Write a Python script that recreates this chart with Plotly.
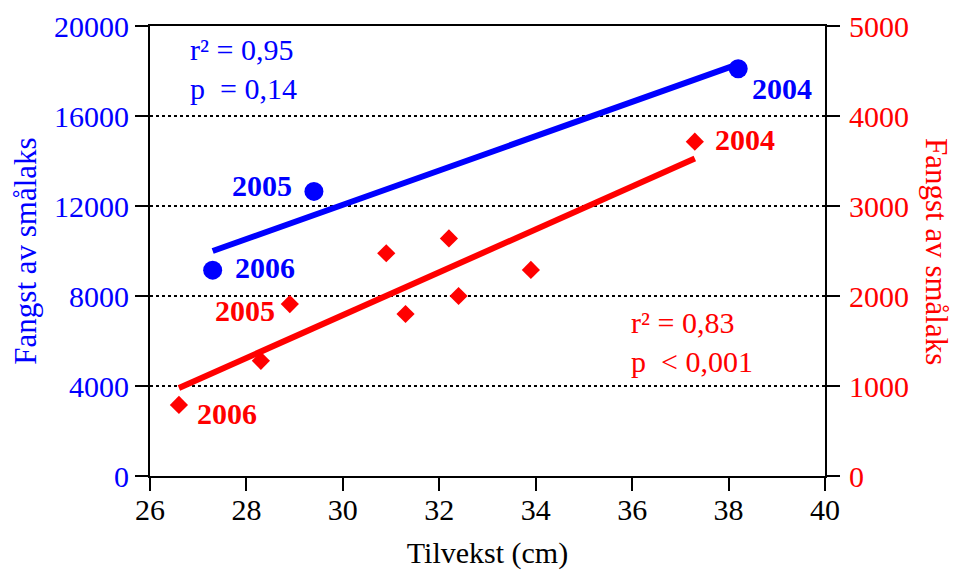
import numpy as np
import plotly.graph_objects as go

# Blue series (left axis) - catch vs growth, with year labels
blue_x = [38.2, 29.4, 27.3]
blue_y = [18100, 12650, 9150]
blue_years = ['2004', '2005', '2006']

# Red series (right axis)
red_x = [26.6, 28.3, 28.9, 30.9, 31.3, 32.2, 32.4, 33.9, 37.3]
red_y = [790, 1280, 1910, 2475, 1800, 2640, 2000, 2290, 3715]
# indices of labelled red points and their years
red_label_idx = [8, 2, 0]
red_years = ['2004', '2005', '2006']

x_ticks = [26, 28, 30, 32, 34, 36, 38, 40]
left_ticks = [0, 4000, 8000, 12000, 16000, 20000]
right_ticks = [0, 1000, 2000, 3000, 4000, 5000]

blue_stats = ['r² = 0,95', 'p  = 0,14']
red_stats = ['r² = 0,83', 'p  < 0,001']

BLUE = '#0000ff'
RED = '#ff0000'
FONT = 'Liberation Serif'


def fit_line(xs, ys):
    """Least squares line between the smallest and largest x."""
    a, b = np.polyfit(xs, ys, 1)
    x0, x1 = min(xs), max(xs)
    return [x0, x1], [a * x0 + b, a * x1 + b]


fig = go.Figure()

bx, by = fit_line(blue_x, blue_y)
rx, ry = fit_line(red_x, red_y)

fig.add_trace(go.Scatter(x=bx, y=by, mode='lines', line={'color': BLUE, 'width': 6},
                         yaxis='y'))
fig.add_trace(go.Scatter(x=blue_x, y=blue_y, mode='markers',
                         marker={'color': BLUE, 'size': 19, 'symbol': 'circle'}, yaxis='y'))
fig.add_trace(go.Scatter(x=rx, y=ry, mode='lines', line={'color': RED, 'width': 6},
                         yaxis='y2'))
fig.add_trace(go.Scatter(x=red_x, y=red_y, mode='markers',
                         marker={'color': RED, 'size': 14, 'symbol': 'diamond'}, yaxis='y2'))

annotations = []
# year labels (offset in pixels from their point, positive yshift = up)
blue_offsets = [(12, -20, 'left'), (-20, 6, 'right'), (20, 3, 'left')]
for year, xv, yv, (dx, dy, anc) in zip(blue_years, blue_x, blue_y, blue_offsets):
    annotations.append(dict(x=xv, y=yv, xref='x', yref='y', text='<b>%s</b>' % year,
                            showarrow=False, xanchor=anc, xshift=dx, yshift=dy,
                            font={'family': FONT, 'size': 30, 'color': BLUE}))
red_offsets = [(18, 2, 'left'), (-13, -6, 'right'), (16, -9, 'left')]
for year, i, (dx, dy, anc) in zip(red_years, red_label_idx, red_offsets):
    annotations.append(dict(x=red_x[i], y=red_y[i], xref='x', yref='y2',
                            text='<b>%s</b>' % year, showarrow=False, xanchor=anc,
                            xshift=dx, yshift=dy,
                            font={'family': FONT, 'size': 30, 'color': RED}))

# regression statistics
annotations.append(dict(x=0.056, y=0.904, xref='paper', yref='paper',
                        text='<br>'.join(blue_stats), showarrow=False, align='left',
                        xanchor='left', yanchor='middle',
                        font={'family': FONT, 'size': 30, 'color': BLUE}))
annotations.append(dict(x=0.709, y=0.297, xref='paper', yref='paper',
                        text='<br>'.join(red_stats), showarrow=False, align='left',
                        xanchor='left', yanchor='middle',
                        font={'family': FONT, 'size': 30, 'color': RED}))

# right axis title, reading top to bottom
annotations.append(dict(x=1.166, y=0.5, xref='paper', yref='paper',
                        text='Fangst av smålaks', showarrow=False, textangle=90,
                        xanchor='center', yanchor='middle',
                        font={'family': FONT, 'size': 31, 'color': RED}))

# page has an 8px body margin, so the figure is made smaller and shifted
fig.update_layout(
    width=950, height=563,
    margin={'l': 142, 'r': 133, 't': 18, 'b': 95, 'autoexpand': False},
    paper_bgcolor='white', plot_bgcolor='white',
    showlegend=False,
    font={'family': FONT, 'size': 30, 'color': 'black'},
    xaxis=dict(range=[26, 40], tickvals=x_ticks, showgrid=False, zeroline=False,
               showline=True, linecolor='black', linewidth=2, mirror=True,
               ticks='outside', ticklen=13, tickwidth=2, tickcolor='black',
               ticklabelstandoff=-7, automargin=False,
               tickfont={'family': FONT, 'size': 30, 'color': 'black'},
               title={'text': 'Tilvekst (cm)', 'standoff': 17,
                      'font': {'family': FONT, 'size': 30, 'color': 'black'}}),
    yaxis=dict(range=[0, 20000], tickvals=left_ticks,
               ticktext=[str(v) for v in left_ticks], showgrid=True,
               gridcolor='black', griddash='dot', gridwidth=2, zeroline=False,
               showline=True, linecolor='black', linewidth=2,
               ticks='outside', ticklen=13, tickwidth=2, tickcolor='black',
               ticklabelstandoff=0, automargin=False,
               tickfont={'family': FONT, 'size': 30, 'color': BLUE},
               title={'text': 'Fangst av smålaks', 'standoff': 10,
                      'font': {'family': FONT, 'size': 31, 'color': BLUE}}),
    yaxis2=dict(range=[0, 5000], tickvals=right_ticks,
                ticktext=[str(v) for v in right_ticks], overlaying='y', side='right',
                showgrid=False, zeroline=False,
                showline=True, linecolor='black', linewidth=2,
                ticks='outside', ticklen=13, tickwidth=2, tickcolor='black',
                ticklabelstandoff=3, automargin=False,
                tickfont={'family': FONT, 'size': 30, 'color': RED}),
    annotations=annotations,
)

fig.write_html('out.html')
